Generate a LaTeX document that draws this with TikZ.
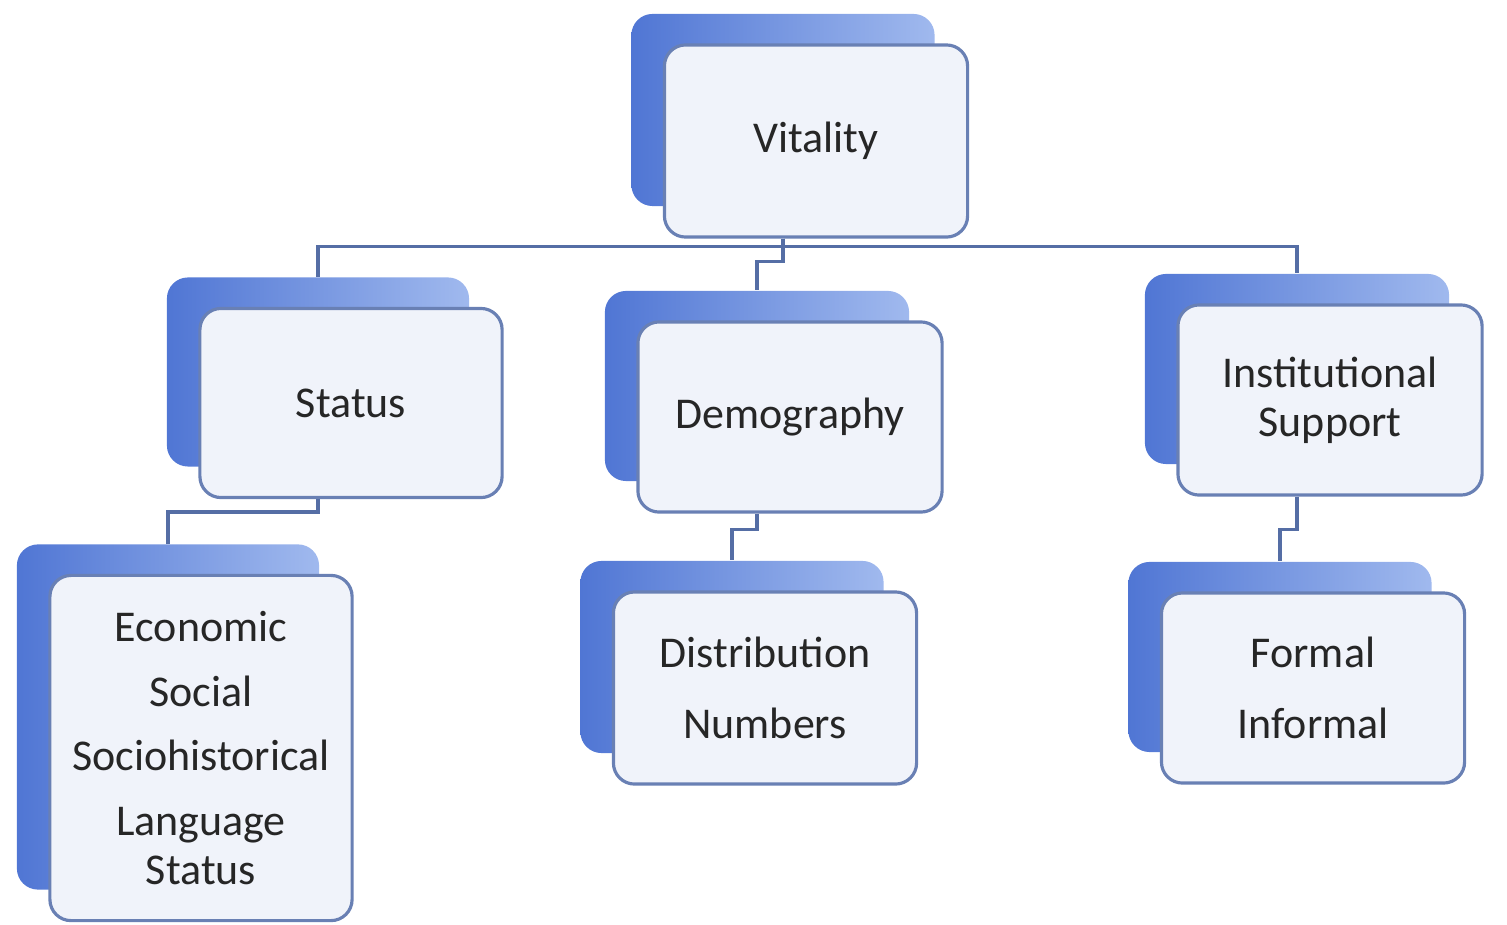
\documentclass[tikz,border=0pt]{standalone}
\usepackage{fontspec}
\setmainfont{Carlito}
\definecolor{bkL}{RGB}{80,118,212}
\definecolor{bkR}{RGB}{160,185,238}
\definecolor{frB}{RGB}{105,128,180}
\definecolor{frF}{RGB}{240,243,250}
\definecolor{cn}{RGB}{85,110,165}
\begin{document}
\begin{tikzpicture}[x=0.01cm,y=-0.01cm,
  back/.style={draw=none,rounded corners=6pt,left color=bkL,right color=bkR,inner sep=0pt},
  front/.style={draw=frB,line width=0.9pt,rounded corners=6pt,fill=frF,inner sep=0pt,align=center,text=black!85,font=\fontsize{12.5}{14}\selectfont},
  conn/.style={draw=cn,line width=1pt}]
\useasboundingbox (0,0) rectangle (1507,924);
\newcommand\mkbox[6]{%
  \node[back,minimum width=#4,minimum height=#5,xshift=-0.33cm,yshift=0.31cm] (#1b) at (#2,#3) {};
  \node[front,minimum width=#4,minimum height=#5] (#1) at (#2,#3) {#6};}
\mkbox{V}{816}{141}{3.03cm}{1.92cm}{Vitality}
\mkbox{S}{351}{403}{3.02cm}{1.89cm}{Status}
\mkbox{D}{790}{417}{3.04cm}{1.90cm}{Demography}
\mkbox{I}{1330}{400}{3.04cm}{1.90cm}{Institutional\\Support}
\mkbox{E}{201}{748}{3.02cm}{3.45cm}{Economic\\[4.4pt]Social\\[4.4pt]Sociohistorical\\[4.4pt]Language\\Status}
\mkbox{T}{765}{688}{3.03cm}{1.92cm}{Distribution\\[6pt]Numbers}
\mkbox{F}{1313}{688}{3.03cm}{1.90cm}{Formal\\[6pt]Informal}
\draw[conn] (V.south -| Vb.north) -- ++(0,8) -| (Sb.north);
\draw[conn] (V.south -| Vb.north) -- ++(0,8) -| (Ib.north);
\draw[conn] (V.south -| Vb.north) -- ++(0,23) -| (Db.north);
\draw[conn] (S.south -| Sb.north) -- ++(0,13) -| (Eb.north);
\draw[conn] (D.south -| Db.north) -- ++(0,16) -| (Tb.north);
\draw[conn] (I.south -| Ib.north) -- ++(0,33) -| (Fb.north);
\end{tikzpicture}
\end{document}
